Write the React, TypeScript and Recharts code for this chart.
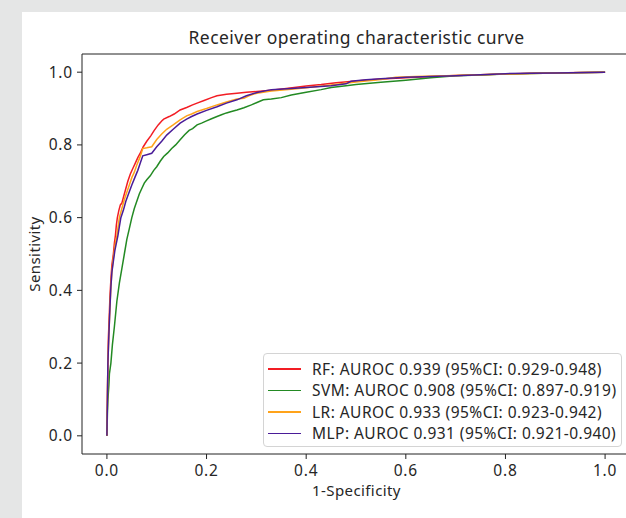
import React from "react";
import { LineChart, Line, XAxis, YAxis, ReferenceLine } from "recharts";

const rfPoints: number[][] = [
  [0, 0], [0.001, 0.1], [0.002, 0.2], [0.003, 0.27], [0.005, 0.34], [0.006, 0.38], [0.008, 0.43],
  [0.01, 0.47], [0.013, 0.5], [0.015, 0.53], [0.017, 0.55], [0.019, 0.58], [0.021, 0.6], [0.024, 0.62],
  [0.027, 0.635], [0.03, 0.64], [0.034, 0.66], [0.038, 0.68], [0.042, 0.7], [0.047, 0.72], [0.052, 0.735],
  [0.057, 0.75], [0.062, 0.765], [0.068, 0.78], [0.073, 0.795], [0.08, 0.81], [0.088, 0.825], [0.095, 0.84],
  [0.103, 0.855], [0.11, 0.866], [0.114, 0.871], [0.125, 0.878], [0.135, 0.885], [0.147, 0.896], [0.16, 0.903],
  [0.172, 0.91], [0.181, 0.915], [0.195, 0.922], [0.21, 0.93], [0.221, 0.935], [0.24, 0.939], [0.261, 0.942],
  [0.28, 0.945], [0.301, 0.947], [0.33, 0.95], [0.36, 0.955], [0.4, 0.962], [0.43, 0.966], [0.46, 0.971],
  [0.5, 0.976], [0.55, 0.981], [0.6, 0.985], [0.65, 0.988], [0.7, 0.991], [0.75, 0.993], [0.8, 0.995],
  [0.85, 0.997], [0.9, 0.998], [0.95, 0.999], [1, 1],
];

const svmPoints: number[][] = [
  [0, 0], [0.001, 0.06], [0.002, 0.1], [0.004, 0.14], [0.005, 0.17], [0.008, 0.2], [0.011, 0.25],
  [0.015, 0.3], [0.02, 0.37], [0.025, 0.42], [0.03, 0.46], [0.035, 0.5], [0.04, 0.54], [0.045, 0.57],
  [0.05, 0.6], [0.055, 0.625], [0.06, 0.645], [0.065, 0.665], [0.07, 0.68],
  [0.075, 0.695], [0.08, 0.704], [0.087, 0.715], [0.094, 0.73], [0.1, 0.74], [0.107, 0.755], [0.114, 0.768],
  [0.122, 0.778], [0.13, 0.79], [0.138, 0.8], [0.147, 0.814], [0.156, 0.828], [0.165, 0.84], [0.172, 0.845],
  [0.181, 0.855], [0.19, 0.86], [0.2, 0.866], [0.21, 0.872], [0.221, 0.878], [0.23, 0.883], [0.24, 0.888],
  [0.25, 0.892], [0.261, 0.896], [0.275, 0.902], [0.29, 0.91], [0.3, 0.916], [0.314, 0.924], [0.33, 0.926],
  [0.35, 0.93], [0.37, 0.937], [0.4, 0.945], [0.43, 0.952], [0.45, 0.958], [0.48, 0.963], [0.5, 0.966],
  [0.55, 0.972], [0.6, 0.978], [0.65, 0.985], [0.7, 0.99], [0.75, 0.992], [0.8, 0.995], [0.9, 0.998], [1, 1],
];

const lrPoints: number[][] = [
  [0, 0], [0.001, 0.1], [0.002, 0.2], [0.004, 0.28], [0.006, 0.35], [0.008, 0.41], [0.01, 0.45],
  [0.012, 0.48], [0.014, 0.5], [0.017, 0.53], [0.02, 0.55], [0.023, 0.58], [0.025, 0.6], [0.03, 0.625],
  [0.035, 0.65], [0.04, 0.67], [0.045, 0.69], [0.05, 0.71], [0.055, 0.725], [0.06, 0.745], [0.066, 0.765],
  [0.072, 0.79], [0.08, 0.792], [0.09, 0.795], [0.1, 0.815], [0.11, 0.83], [0.12, 0.843], [0.133, 0.855],
  [0.147, 0.869], [0.16, 0.88], [0.17, 0.885], [0.181, 0.892], [0.2, 0.9], [0.221, 0.91], [0.24, 0.918],
  [0.261, 0.926], [0.275, 0.928], [0.285, 0.935], [0.295, 0.94], [0.301, 0.942], [0.33, 0.948],
  [0.37, 0.953], [0.4, 0.957], [0.45, 0.965], [0.5, 0.973], [0.55, 0.98], [0.58, 0.986], [0.62, 0.988],
  [0.7, 0.991], [0.8, 0.995], [0.9, 0.998], [1, 1],
];

const mlpPoints: number[][] = [
  [0, 0], [0.001, 0.1], [0.002, 0.2], [0.004, 0.28], [0.006, 0.35], [0.008, 0.41], [0.01, 0.45],
  [0.013, 0.48], [0.016, 0.51], [0.019, 0.53], [0.022, 0.55], [0.025, 0.575], [0.028, 0.6], [0.033, 0.62],
  [0.038, 0.645], [0.044, 0.668], [0.05, 0.69], [0.056, 0.71], [0.062, 0.73], [0.067, 0.75], [0.072, 0.77],
  [0.08, 0.773], [0.09, 0.777], [0.1, 0.795], [0.11, 0.81], [0.12, 0.827], [0.133, 0.843], [0.147, 0.86],
  [0.16, 0.871], [0.17, 0.878], [0.181, 0.885], [0.2, 0.895], [0.221, 0.905], [0.24, 0.915], [0.261, 0.924],
  [0.28, 0.935], [0.301, 0.944], [0.33, 0.952], [0.37, 0.955], [0.4, 0.958], [0.45, 0.963], [0.48, 0.968],
  [0.49, 0.975], [0.52, 0.979], [0.55, 0.982], [0.6, 0.986], [0.7, 0.99], [0.8, 0.996], [0.9, 0.998], [1, 1],
];

const seriesNames = [
  "RF: AUROC 0.939 (95%CI: 0.929-0.948)",
  "SVM: AUROC 0.908 (95%CI: 0.897-0.919)",
  "LR: AUROC 0.933 (95%CI: 0.923-0.942)",
  "MLP: AUROC 0.931 (95%CI: 0.921-0.940)",
];
const seriesColors = ["#f21d24", "#238a23", "#ffa31a", "#4a1c98"];
const seriesPoints = [rfPoints, svmPoints, lrPoints, mlpPoints];

const axisTicks = [0, 0.2, 0.4, 0.6, 0.8, 1.0];
const titleText = "Receiver operating characteristic curve";
const xLabel = "1-Specificity";
const yLabel = "Sensitivity";

const FONT = "'Noto Sans', 'Noto Sans CJK JP', sans-serif";
const TEXT = "#262626";

export default function App() {
  const series = seriesPoints.map((pts) => pts.map(([x, y]) => ({ x, y })));
  const tickStyle = { fontSize: 15.5, fill: TEXT, fontFamily: FONT, letterSpacing: 0.8 };
  return (
    <div
      style={{
        position: "fixed",
        left: 0,
        top: 0,
        width: 626,
        height: 518,
        overflow: "hidden",
        background: "#e5e6e6",
        fontFamily: FONT,
      }}
    >
      <div style={{ position: "absolute", left: 22, top: 12, width: 700, height: 600, background: "#fff" }} />
      <div style={{ position: "absolute", left: 0, top: 0 }}>
        <LineChart
          width={660}
          height={518}
          margin={{ top: 54, right: 30, left: 22, bottom: 34 }}
        >
          <XAxis
            dataKey="x"
            type="number"
            domain={[-0.05, 1.05]}
            ticks={axisTicks}
            tickFormatter={(v: number) => v.toFixed(1)}
            allowDataOverflow
            height={30}
            tickSize={5}
            tickMargin={6}
            stroke="#222"
            tick={tickStyle}
          />
          <YAxis
            dataKey="y"
            type="number"
            domain={[-0.05, 1.05]}
            ticks={axisTicks}
            tickFormatter={(v: number) => v.toFixed(1)}
            allowDataOverflow
            width={60}
            tickSize={5}
            tickMargin={4}
            stroke="#222"
            tick={tickStyle}
          />
          <ReferenceLine y={1.05} stroke="#222" strokeWidth={1} ifOverflow="visible" />
          {series.map((d, i) => (
            <Line
              key={seriesNames[i]}
              data={d}
              dataKey="y"
              type="linear"
              stroke={seriesColors[i]}
              strokeWidth={1.5}
              dot={false}
              activeDot={false}
              isAnimationActive={false}
            />
          ))}
        </LineChart>
      </div>
      <div
        style={{
          position: "absolute",
          left: 0,
          width: 713,
          top: 25,
          textAlign: "center",
          fontSize: 17.5,
          letterSpacing: 0.45,
          color: TEXT,
          lineHeight: "24px",
        }}
      >
        {titleText}
      </div>
      <div
        style={{
          position: "absolute",
          left: 0,
          width: 713,
          top: 479,
          textAlign: "center",
          fontSize: 15,
          letterSpacing: 0.4,
          color: TEXT,
          lineHeight: "22px",
        }}
      >
        {xLabel}
      </div>
      <div
        style={{
          position: "absolute",
          left: 34,
          top: 254,
          transform: "translate(-50%, -50%) rotate(-90deg)",
          fontSize: 15,
          letterSpacing: 0.4,
          color: TEXT,
          whiteSpace: "nowrap",
          lineHeight: "22px",
        }}
      >
        {yLabel}
      </div>
      <div
        style={{
          position: "absolute",
          left: 263,
          top: 353,
          width: 359,
          height: 94,
          border: "1px solid #d4d4d4",
          borderRadius: 4,
          background: "rgba(255,255,255,0.85)",
          boxSizing: "border-box",
          paddingTop: 4,
        }}
      >
        {seriesNames.map((name, i) => (
          <div key={name} style={{ display: "flex", alignItems: "center", height: 21.5 }}>
            <div style={{ marginLeft: 4, width: 33, height: 1.5, background: seriesColors[i] }} />
            <div style={{ marginLeft: 11, fontSize: 15.5, letterSpacing: 0.45, color: TEXT, whiteSpace: "nowrap" }}>{name}</div>
          </div>
        ))}
      </div>
    </div>
  );
}
